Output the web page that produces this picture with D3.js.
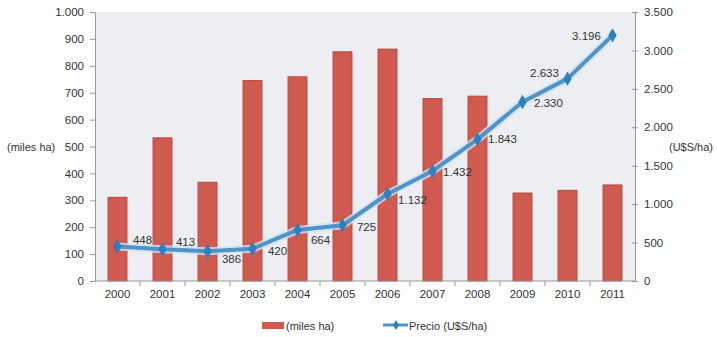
<!DOCTYPE html>
<html>
<head>
<meta charset="utf-8">
<script src="https://cdn.jsdelivr.net/npm/d3@7"></script>
<style>
  html, body { margin: 0; padding: 0; background: #ffffff; }
  svg text { font-family: "Liberation Sans Narrow", "Arial Narrow", "Liberation Sans", Arial, sans-serif; fill: #333; }
</style>
</head>
<body>
<svg id="chart" width="717" height="337"></svg>
<script>
// Annual data: area (thousand hectares) and price (US$ per hectare)
const years = ["2000","2001","2002","2003","2004","2005","2006","2007","2008","2009","2010","2011"];
const areaMilesHa = [311, 532, 367, 745, 759, 852, 862, 678, 687, 327, 337, 357];
const precio = [448, 413, 386, 420, 664, 725, 1132, 1432, 1843, 2330, 2633, 3196];
const leftTicks = [0,100,200,300,400,500,600,700,800,900,1000];
const rightTicks = [0,500,1000,1500,2000,2500,3000,3500];
// label placement around each price point: [dx, dy] to label center
const labelOffsets = [[25,-7],[23,-7],[24,8],[25,2],[23,10],[24,2],[25,6],[25,1],[25,0],[26,1],[-23,-6],[-26,1]];

const fmt = v => d3.format(",")(v).replace(/,/g, ".");

const svg = d3.select("#chart");
const m = { left: 95, right: 635, top: 12, bottom: 281 };

const x = d3.scaleBand().domain(years).range([m.left, m.right]).paddingInner(0.58).paddingOuter(0.29);
const xc = d => x(d) + x.bandwidth() / 2;
const yL = d3.scaleLinear().domain([0, 1000]).range([m.bottom, m.top]);
const yR = d3.scaleLinear().domain([0, 3500]).range([m.bottom, m.top]);

// plot background
svg.append("rect")
  .attr("x", m.left).attr("y", m.top)
  .attr("width", m.right - m.left).attr("height", m.bottom - m.top)
  .attr("fill", "#eceef1");

// bars
svg.append("g").selectAll("rect")
  .data(years)
  .join("rect")
  .attr("x", d => x(d))
  .attr("y", (d, i) => yL(areaMilesHa[i]))
  .attr("width", x.bandwidth())
  .attr("height", (d, i) => yL(0) - yL(areaMilesHa[i]))
  .attr("fill", "#cf5a50")
  .attr("stroke", "#b9463f")
  .attr("stroke-width", 1);

// left axis
const gL = svg.append("g").attr("transform", `translate(${m.left},0)`)
  .call(d3.axisLeft(yL).tickValues(leftTicks).tickFormat(fmt).tickSize(5).tickPadding(6));
// right axis
const gR = svg.append("g").attr("transform", `translate(${m.right},0)`)
  .call(d3.axisRight(yR).tickValues(rightTicks).tickFormat(fmt).tickSize(3).tickPadding(6));
gR.selectAll(".tick line").attr("x1", -3);
// bottom axis
const gB = svg.append("g").attr("transform", `translate(0,${m.bottom})`)
  .call(d3.axisBottom(x).tickSize(0).tickPadding(9));
gB.selectAll(".domain").remove();
svg.append("line")
  .attr("x1", m.left).attr("x2", m.right)
  .attr("y1", m.bottom).attr("y2", m.bottom)
  .attr("stroke", "#999");
// category separators below the baseline
svg.append("g").selectAll("line")
  .data(years.slice(1))
  .join("line")
  .attr("x1", d => x(d) - x.step() * x.paddingInner() / 2)
  .attr("x2", d => x(d) - x.step() * x.paddingInner() / 2)
  .attr("y1", m.bottom).attr("y2", m.bottom + 5)
  .attr("stroke", "#999");

[gL, gR, gB].forEach(g => {
  g.selectAll(".domain").attr("stroke", "#999");
  g.selectAll(".tick line").attr("stroke", "#999");
  g.selectAll("text").attr("font-size", 11.5).attr("fill", "#333");
});

// axis titles
svg.append("text").attr("x", 7).attr("y", 151).attr("font-size", 11).text("(miles ha)");
svg.append("text").attr("x", 669).attr("y", 151).attr("font-size", 11).text("(U$S/ha)");

// price line
const line = d3.line().x((d, i) => xc(years[i])).y(d => yR(d));
svg.append("path").datum(precio).attr("d", line)
  .attr("fill", "none").attr("stroke", "#cfe3f3").attr("stroke-width", 8)
  .attr("stroke-linejoin", "round").attr("opacity", 0.8);
svg.append("path").datum(precio).attr("d", line)
  .attr("fill", "none").attr("stroke", "#4f93c9").attr("stroke-width", 4)
  .attr("stroke-linejoin", "round");
svg.append("g").selectAll("path")
  .data(precio)
  .join("path")
  .attr("transform", (d, i) => `translate(${xc(years[i])},${yR(d)})`)
  .attr("d", d3.symbol(d3.symbolDiamond, 60))
  .attr("fill", "#2d7fbd");

// price labels
svg.append("g").selectAll("text")
  .data(precio)
  .join("text")
  .attr("x", (d, i) => xc(years[i]) + labelOffsets[i][0])
  .attr("y", (d, i) => yR(d) + labelOffsets[i][1])
  .attr("text-anchor", "middle")
  .attr("dominant-baseline", "central")
  .attr("font-size", 11.5)
  .attr("fill", "#333")
  .text(fmt);

// legend
const lg = svg.append("g");
lg.append("rect").attr("x", 262).attr("y", 322).attr("width", 22).attr("height", 7).attr("fill", "#cf5a50");
lg.append("text").attr("x", 286).attr("y", 326).attr("dominant-baseline", "central").attr("font-size", 11).text("(miles ha)");
lg.append("line").attr("x1", 383).attr("x2", 408).attr("y1", 325).attr("y2", 325)
  .attr("stroke", "#4f93c9").attr("stroke-width", 3);
lg.append("path").attr("transform", "translate(396,325)").attr("d", d3.symbol(d3.symbolDiamond, 30)).attr("fill", "#2d7fbd");
lg.append("text").attr("x", 409).attr("y", 326).attr("dominant-baseline", "central").attr("font-size", 11).text("Precio (U$S/ha)");
</script>
</body>
</html>
